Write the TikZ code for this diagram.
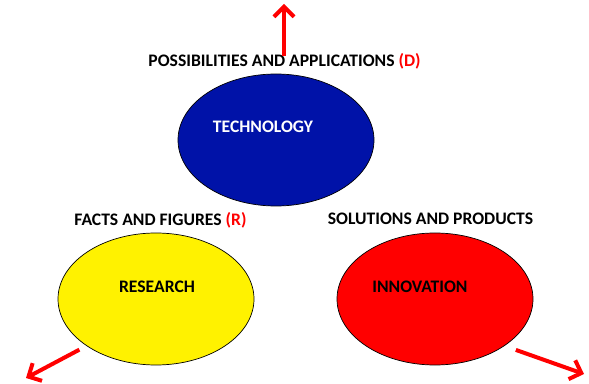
\documentclass[tikz,border=0pt]{standalone}
\usepackage{fontspec}
\setmainfont{Carlito}
\usetikzlibrary{shapes.geometric,arrows.meta}
\definecolor{techblue}{RGB}{0,18,168}
\definecolor{arrred}{RGB}{255,0,0}
\def\rx{196pt}
\def\ry{132pt}

\begin{document}
\begin{tikzpicture}[x=1pt, y=1pt,
    blob/.style={draw, ellipse, line width=0.7pt, minimum width=\rx, minimum height=\ry, inner sep=0pt},
    word/.style={font=\fontsize{17.6}{20}\selectfont\bfseries, inner sep=0pt},
    bigarrow/.style={draw=arrred, line width=4pt, -{Straight Barb[length=10pt, width=20pt]}}]
            \useasboundingbox (0,0) rectangle (589,383);

            \node[blob, fill=techblue] (tech) at (276,243) {};
            \node[blob, fill=yellow] (research) at (156,84) {};
            \node[blob, fill=red] (innov) at (435,84) {};

            \node[word, white] (techtxt) at (263,256) {TECHNOLOGY};
            \node[word] (restxt) at (157,96) {RESEARCH};
            \node[word] (innovtxt) at (420,96) {INNOVATION};

            \node[word] (poss) at (284.5,322) {POSSIBILITIES AND APPLICATIONS {\color{arrred}(D)}};
            \node[word] (facts) at (160.5,163) {FACTS AND FIGURES {\color{arrred}(R)}};
            \node[word] (sol) at (430.5,164) {SOLUTIONS AND PRODUCTS};

            \coordinate (dtip) at (284,379);
            \coordinate (rtip) at (26,5);
            \coordinate (itip) at (584,9);

            \draw[bigarrow, shorten <=-3pt] (poss.north -| dtip) -- (dtip);
            \draw[bigarrow, shorten <=8pt] (research.south west) -- (rtip);
            \draw[bigarrow, shorten <=12pt] (innov.south east) -- (itip);

\end{tikzpicture}
\end{document}
